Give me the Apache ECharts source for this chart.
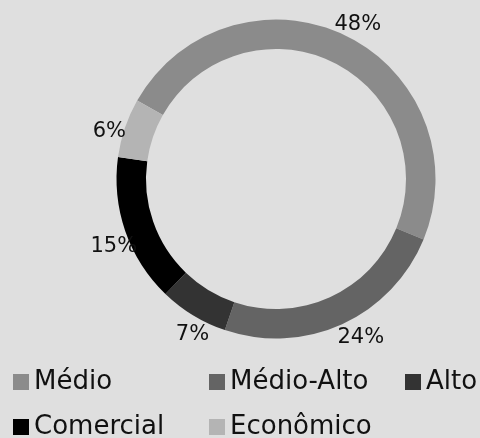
<!DOCTYPE html>
<html>
<head>
<meta charset="utf-8">
<title>Tipologia</title>
<script src="https://cdn.jsdelivr.net/npm/echarts@6/dist/echarts.min.js"></script>
<style>
  html, body { margin: 0; padding: 0; background: #dfdfdf; }
  #chart { width: 480px; height: 438px; }
</style>
</head>
<body>
<div id="chart"></div>
<script>
// Segments and their shares (%)
const categories = ['Médio', 'Médio-Alto', 'Alto', 'Comercial', 'Econômico'];
const shares = [48, 24, 7, 15, 6];
const colors = ['#8b8b8b', '#646464', '#333333', '#000000', '#b4b4b4'];

// Small per-label nudges (px) for the percentage labels
const labelNudges = [[4, 6], [11, -3], [9, 3], [6, 9], [2, 10]];

// Legend columns: each column stacks its entries vertically
const legendColumns = [
  ['Médio', 'Comercial'],
  ['Médio-Alto', 'Econômico'],
  ['Alto']
];
const legendLefts = [13, 209, 405];

const FONT = '"DejaVu Sans", sans-serif';

const chart = echarts.init(document.getElementById('chart'), null, { renderer: 'canvas' });

const center = [276, 179];
const startAngle = 150.5;

chart.setOption({
  backgroundColor: '#dfdfdf',
  animation: false,
  legend: legendColumns.map((names, c) => ({
    data: names,
    orient: 'vertical',
    left: legendLefts[c],
    top: 368,
    height: 120,
    padding: 0,
    itemGap: 17,
    itemWidth: 16,
    itemHeight: 16,
    icon: 'rect',
    selectedMode: false,
    textStyle: {
      fontFamily: FONT,
      fontSize: 26,
      lineHeight: 28,
      color: '#111111'
    }
  })),
  series: [
    {
      // the ring
      type: 'pie',
      center: center,
      radius: [130, 159.5],
      startAngle: startAngle,
      clockwise: true,
      silent: true,
      label: { show: false },
      labelLine: { show: false },
      itemStyle: { borderWidth: 0 },
      data: categories.map((name, i) => ({
        name: name,
        value: shares[i],
        itemStyle: { color: colors[i] }
      }))
    },
    {
      // percentage labels on a transparent outer band
      type: 'pie',
      center: center,
      radius: [160, 190],
      startAngle: startAngle,
      clockwise: true,
      silent: true,
      itemStyle: { color: 'transparent', borderWidth: 0 },
      label: {
        show: true,
        position: 'inside',
        formatter: '{c}%',
        fontFamily: FONT,
        fontSize: 21,
        color: '#111111'
      },
      labelLine: { show: false },
      data: categories.map((name, i) => ({
        name: name,
        value: shares[i],
        label: { offset: labelNudges[i] }
      }))
    }
  ]
});
</script>
</body>
</html>
